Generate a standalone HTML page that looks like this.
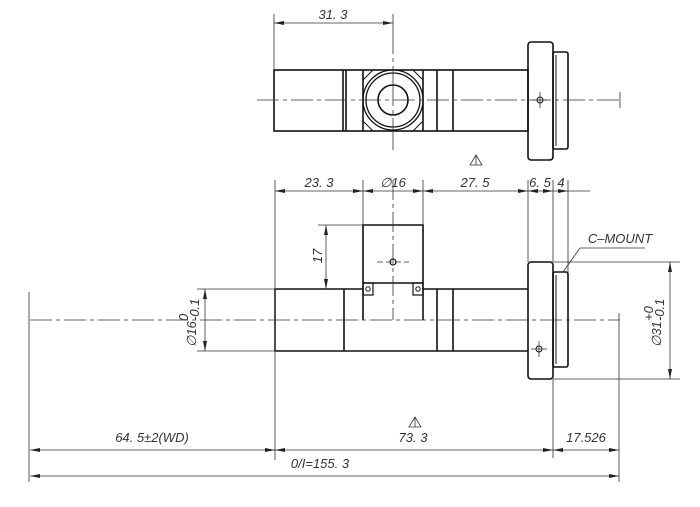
<!DOCTYPE html>
<html><head><meta charset="utf-8"><style>
html,body{margin:0;padding:0;background:#fff;}
svg{display:block;}
text{font-family:"Liberation Sans",sans-serif;font-style:italic;fill:#333;font-size:13px;}
</style></head><body>
<svg width="700" height="507" viewBox="0 0 700 507" xmlns="http://www.w3.org/2000/svg">
<defs>
<marker id="a" viewBox="0 0 10 4" refX="10" refY="2" markerWidth="10" markerHeight="4" orient="auto-start-reverse" markerUnits="userSpaceOnUse"><path d="M0,0 L10,2 L0,4z" fill="#222"/></marker>
</defs>
<g stroke="#111" fill="none" stroke-width="1.6">
<rect x="274" y="70" width="254" height="61"/>
<line x1="343" y1="70" x2="343" y2="131"/><line x1="346" y1="70" x2="346" y2="131"/>
<line x1="363" y1="70" x2="363" y2="131"/><line x1="423" y1="70" x2="423" y2="131"/>
<line x1="437" y1="70" x2="437" y2="131"/><line x1="453" y1="70" x2="453" y2="131"/>
<path d="M363,80 L373,70 M413,70 L423,80 M363,121 L373,131 M413,131 L423,121" stroke-width="1"/>
<circle cx="393" cy="100" r="30" stroke-width="1.3"/>
<circle cx="393" cy="100" r="27" stroke-width="1.3"/>
<circle cx="393" cy="100" r="15"/>
<rect x="528" y="42" width="25" height="118" rx="3"/>
<rect x="553" y="52" width="15" height="97" rx="2"/>
<line x1="556" y1="55" x2="556" y2="146" stroke-width="1"/>
<circle cx="540" cy="100" r="3" stroke-width="1"/>
<path d="M275,289 H363 M423,289 H528 M275,351 H528 M275,289 V351"/>
<line x1="344" y1="289" x2="344" y2="351"/>
<line x1="437" y1="289" x2="437" y2="351"/><line x1="453" y1="289" x2="453" y2="351"/>
<path d="M363,320 V225 H423 V320"/>
<line x1="363" y1="283" x2="423" y2="283"/>
<rect x="363" y="283" width="10" height="12" stroke-width="1.2"/>
<rect x="413" y="283" width="10" height="12" stroke-width="1.2"/>
<circle cx="368" cy="289" r="2.2" stroke-width="1"/><circle cx="418" cy="289" r="2.2" stroke-width="1"/>
<circle cx="393" cy="262" r="3" stroke-width="1.2"/>
<rect x="528" y="262" width="25" height="117" rx="3"/>
<rect x="553" y="272" width="15" height="95" rx="2"/>
<line x1="556" y1="275" x2="556" y2="364" stroke-width="1"/>
<circle cx="539" cy="349" r="3" stroke-width="1"/>
</g>
<g stroke="#333" fill="none" stroke-width="0.8">
<line x1="257" y1="100" x2="620" y2="100" stroke-dasharray="22,4,4,4"/>
<line x1="620" y1="92" x2="620" y2="108"/>
<line x1="393" y1="14" x2="393" y2="150" stroke-dasharray="40,4,4,4"/>
<line x1="30" y1="320" x2="620" y2="320" stroke-dasharray="22,4,4,4"/>
<line x1="393" y1="180" x2="393" y2="320" stroke-dasharray="20,4,4,4"/>
<line x1="377" y1="262" x2="409" y2="262" stroke-dasharray="6,3"/>
<path d="M532,100 H548 M540,92 V108 M531,349 H547 M539,341 V357"/>
<line x1="274" y1="14" x2="274" y2="70"/>
<line x1="274" y1="23" x2="393" y2="23" marker-start="url(#a)" marker-end="url(#a)"/>
<path d="M275,180 V460 M363,180 V225 M423,180 V225 M528,180 V262 M553,180 V262 M568,180 V272"/>
<line x1="275" y1="191" x2="363" y2="191" marker-start="url(#a)" marker-end="url(#a)"/>
<line x1="363" y1="191" x2="423" y2="191" marker-start="url(#a)" marker-end="url(#a)"/>
<line x1="423" y1="191" x2="528" y2="191" marker-start="url(#a)" marker-end="url(#a)"/>
<line x1="528" y1="191" x2="553" y2="191" marker-start="url(#a)" marker-end="url(#a)"/>
<line x1="553" y1="191" x2="568" y2="191" marker-end="url(#a)"/>
<line x1="568" y1="191" x2="590" y2="191"/>
<line x1="318" y1="225" x2="363" y2="225"/>
<line x1="326" y1="225" x2="326" y2="289" marker-start="url(#a)" marker-end="url(#a)"/>
<path d="M197,289 H275 M197,351 H275"/>
<line x1="205" y1="289" x2="205" y2="351" marker-start="url(#a)" marker-end="url(#a)"/>
<path d="M553,262 H680 M553,379 H680"/>
<line x1="670" y1="262" x2="670" y2="379" marker-start="url(#a)" marker-end="url(#a)"/>
<path d="M645,248 H580 L563,272"/>
<path d="M29,292 V482 M553,379 V458 M619,313 V482"/>
<line x1="30" y1="450" x2="275" y2="450" marker-start="url(#a)" marker-end="url(#a)"/>
<line x1="275" y1="450" x2="553" y2="450" marker-start="url(#a)" marker-end="url(#a)"/>
<line x1="553" y1="450" x2="619" y2="450" marker-start="url(#a)" marker-end="url(#a)"/>
<line x1="30" y1="476" x2="619" y2="476" marker-start="url(#a)" marker-end="url(#a)"/>
<path d="M476,155 L470,165 H482 Z M476,155 V165"/>
<path d="M415,417 L409,427 H421 Z M415,417 V427"/>
</g>
<g>
<text x="333" y="19" text-anchor="middle">31. 3</text>
<text x="319" y="187" text-anchor="middle">23. 3</text>
<text x="393" y="187" text-anchor="middle">∅16</text>
<text x="475" y="187" text-anchor="middle">27. 5</text>
<text x="540" y="187" text-anchor="middle">6. 5</text>
<text x="561" y="187" text-anchor="middle">4</text>
<text x="620" y="243" text-anchor="middle" font-size="12">C–MOUNT</text>
<text transform="translate(322,256) rotate(-90)" text-anchor="middle">17</text>
<text transform="translate(196,347) rotate(-90)">∅16</text>
<text transform="translate(188,321) rotate(-90)" font-size="8">0</text>
<text transform="translate(199,321) rotate(-90)" font-size="8">-0.1</text>
<text transform="translate(661,347) rotate(-90)">∅31</text>
<text transform="translate(653,321) rotate(-90)" font-size="8">+0</text>
<text transform="translate(664,321) rotate(-90)" font-size="8">-0.1</text>
<text x="152" y="442" text-anchor="middle">64. 5±2(WD)</text>
<text x="413" y="442" text-anchor="middle">73. 3</text>
<text x="586" y="442" text-anchor="middle">17.526</text>
<text x="320" y="468" text-anchor="middle">0/I=155. 3</text>
</g>
</svg>
</body></html>
